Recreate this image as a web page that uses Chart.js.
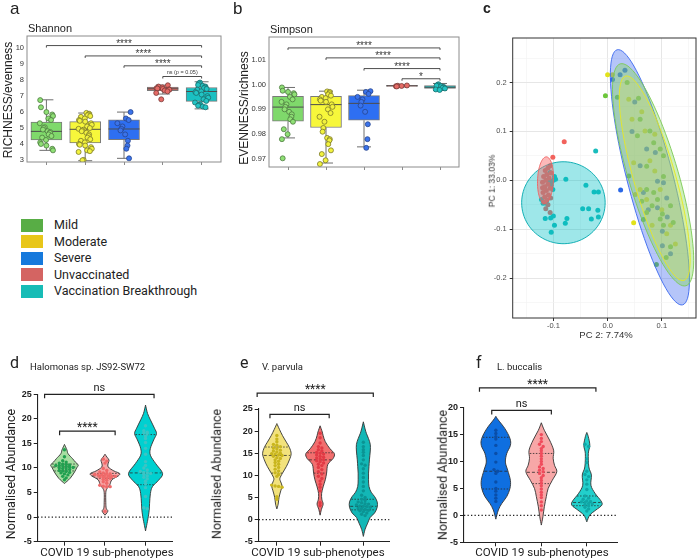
<!DOCTYPE html>
<html>
<head>
<meta charset="utf-8">
<script src="https://cdn.jsdelivr.net/npm/chart.js@4.4.1/dist/chart.umd.min.js"></script>
<style>
  body { margin: 0; width: 700px; height: 560px; position: relative; background: #fff; overflow: hidden; color: #222; font-family: Roboto, 'Liberation Sans', sans-serif; }
  canvas { position: absolute; }
  .t { position: absolute; white-space: nowrap; line-height: 1; }
</style>
</head>
<body>
<script>
// ---------- data ----------
const groups = ['Mild', 'Moderate', 'Severe', 'Unvaccinated', 'Vaccination Breakthrough'];
const legendColors = ['#58ad45', '#e8c619', '#1679dc', '#d46462', '#17bcb6'];

// a: Shannon   [min, q1, median, q3, max]
const shannonBoxes = [
  [3.6, 4.25, 4.79, 5.38, 6.77],
  [2.95, 4.06, 4.92, 5.4, 5.94],
  [3.1, 4.27, 4.94, 5.52, 6.0],
  [7.13, 7.35, 7.46, 7.56, 7.69],
  [6.2, 6.67, 7.29, 7.54, 7.9]
];
const shannonMildPts = [6.75, 6.3, 6.0, 5.85, 5.75, 5.6, 5.5, 5.3, 5.05, 5.0, 4.9, 4.8, 4.75, 4.7, 4.6, 4.5, 4.4, 4.25, 4.1, 4.0, 3.9, 3.7, 3.6];
const shannonModPts = [5.95, 5.9, 5.85, 5.8, 5.75, 5.7, 5.6, 5.5, 5.45, 5.4, 5.3, 5.2, 5.1, 5.0, 4.95, 4.9, 4.85, 4.8, 4.7, 4.6, 4.5, 4.4, 4.3, 4.2, 4.1, 4.0, 3.95, 3.9, 3.8, 3.7, 3.6, 3.55, 3.5, 3.0, 2.98];
const shannonSevPts = [6.0, 5.6, 5.5, 5.3, 5.1, 4.95, 4.85, 4.6, 4.2, 3.9, 3.7, 3.1];
const shannonUnvPts = [7.68, 7.6, 7.55, 7.5, 7.48, 7.45, 7.42, 7.4, 7.35, 7.3, 7.2, 6.8];
const shannonVbPts = [7.85, 7.8, 7.7, 7.65, 7.6, 7.55, 7.5, 7.45, 7.4, 7.3, 7.25, 7.2, 7.1, 7.0, 6.9, 6.8, 6.7, 6.6, 6.5, 6.45, 6.4, 6.35, 6.3];
const shannonTicks = [3, 4, 5, 6, 7, 8, 9, 10];
const shannonBrackets = [[0, 4, 10.17, '****'], [1, 4, 9.52, '****'], [2, 4, 8.9, '****'], [3, 4, 8.23, 'ns (p = 0.05)']];

// b: Simpson
const simpsonBoxes = [
  [0.9785, 0.9852, 0.9909, 0.9952, 0.9988],
  [0.9684, 0.9827, 0.9919, 0.9952, 0.9973],
  [0.9749, 0.9856, 0.9924, 0.9955, 0.9977],
  [0.999, 0.9992, 0.9995, 0.9997, 0.9998],
  [0.9976, 0.9984, 0.9989, 0.9996, 1.0004]
];
const simpsonMildPts = [0.9988, 0.9975, 0.997, 0.9965, 0.996, 0.995, 0.994, 0.993, 0.992, 0.991, 0.990, 0.989, 0.988, 0.987, 0.986, 0.985, 0.982, 0.980, 0.978, 0.9703];
const simpsonModPts = [0.9972, 0.997, 0.9965, 0.996, 0.9955, 0.995, 0.9945, 0.994, 0.9935, 0.993, 0.992, 0.991, 0.990, 0.9885, 0.987, 0.985, 0.9825, 0.981, 0.9785, 0.978, 0.9775, 0.976, 0.9735, 0.972, 0.9695, 0.968];
const simpsonSevPts = [0.9973, 0.997, 0.9962, 0.995, 0.994, 0.993, 0.9915, 0.989, 0.984, 0.978, 0.9745];
const simpsonUnvPts = [0.9996, 0.9995, 0.9994, 0.9993, 0.9992];
const simpsonVbPts = [1.0001, 0.9998, 0.9995, 0.9993, 0.999, 0.9988, 0.9986, 0.9984, 0.998, 0.9978];
const simpsonTicks = [0.97, 0.98, 0.99, 1.00, 1.01];
const simpsonBrackets = [[0, 4, 1.0147, '****'], [1, 4, 1.0107, '****'], [2, 4, 1.0064, '****'], [3, 4, 1.0023, '*']];

// c: PCA  [PC2, PC1]
const pcaMild = [[-0.004, 0.173], [0.018, 0.17], [0.057, 0.168], [0.036, 0.2], [0.06, 0.125], [0.078, 0.101], [0.055, 0.091], [0.085, 0.077], [0.097, 0.064], [0.103, 0.05], [0.072, 0.029], [0.103, 0.008], [0.039, 0.009], [0.072, -0.019], [0.085, -0.025], [0.092, -0.039], [0.066, -0.08], [0.101, -0.069], [0.116, -0.052], [0.097, -0.079], [0.103, -0.092], [0.121, -0.086], [0.116, -0.136], [0.108, -0.158], [0.09, -0.172], [0.072, -0.066], [0.082, -0.052], [0.063, -0.043]];
const pcaModerate = [[0.0, 0.216], [0.009, 0.216], [0.048, -0.087], [0.039, 0.166], [0.045, 0.125], [0.069, 0.101], [0.087, 0.094], [0.048, 0.036], [0.087, 0.019], [0.06, -0.019], [0.097, -0.019], [0.072, -0.039], [0.082, -0.092], [0.116, -0.092], [0.109, -0.109], [0.125, -0.13], [0.051, -0.029], [0.063, 0.14], [0.078, 0.04], [0.1, -0.06]];
const pcaSevere = [[0.009, 0.206], [0.023, 0.216], [0.032, 0.225], [0.024, -0.02], [0.072, 0.064], [0.088, 0.057], [0.092, -0.002], [0.103, -0.005], [0.066, -0.025], [0.109, -0.036], [0.092, -0.056], [0.101, -0.104], [0.101, -0.134], [0.116, -0.15], [0.045, 0.1], [0.06, 0.03], [0.075, -0.06], [0.11, -0.075], [0.05, 0.16]];
const pcaUnvacc = [[-0.08, 0.079], [-0.101, 0.047], [-0.106, 0.03], [-0.11, 0.025], [-0.115, 0.02], [-0.112, 0.012], [-0.118, 0.008], [-0.108, 0.005], [-0.114, 0.0], [-0.12, -0.004], [-0.11, -0.008], [-0.116, -0.013], [-0.106, -0.016], [-0.113, -0.021], [-0.119, -0.025], [-0.109, -0.03], [-0.116, -0.034], [-0.112, -0.04], [-0.105, -0.036], [-0.118, -0.045], [-0.11, -0.05], [-0.114, -0.058], [-0.106, -0.066], [-0.12, -0.015], [-0.104, 0.015]];
const pcaVB = [[-0.022, 0.06], [-0.077, 0.002], [-0.096, 0.002], [-0.103, -0.003], [-0.106, 0.016], [-0.101, -0.019], [-0.04, -0.01], [-0.025, -0.024], [-0.017, -0.024], [-0.046, -0.058], [-0.035, -0.058], [-0.018, -0.061], [-0.03, -0.079], [-0.017, -0.075], [-0.075, -0.078], [-0.078, -0.088], [-0.115, -0.078], [-0.105, -0.077], [-0.1, -0.073], [-0.098, -0.092], [-0.104, -0.106], [-0.119, -0.047], [-0.113, -0.047], [-0.122, -0.039], [-0.1, 0.0], [-0.104, -0.01], [-0.108, 0.0], [-0.098, 0.008]];
// ellipses: centre, semi-axis a, semi-axis b (data units)
const pcaEllipses = [
  [[0.078, 0.0062], [-0.0604, 0.2608], [0.0409, 0.0119]],   // Severe
  [[0.0839, 0.0113], [-0.0607, 0.2268], [0.0439, 0.0148]],  // Mild
  [[0.0869, 0.0042], [-0.0539, 0.2089], [0.037, 0.012]],    // Moderate
  [[-0.0815, -0.0458], [0.077, 0], [0, 0.0838]],            // Vaccination Breakthrough
  [[-0.1145, 0.0004], [0.0147, 0], [0.0015, 0.0476]]        // Unvaccinated
];
const pcaTicksX = [-0.1, 0, 0.1];
const pcaMinorX = [-0.15, -0.05, 0.05, 0.15];
const pcaTicksY = [-0.2, -0.1, 0, 0.1, 0.2];
const pcaMinorY = [-0.25, -0.15, -0.05, 0.05, 0.15, 0.25];

// d/e/f: violins  profile = [value, half width in category units]
const halomonasProfiles = [
  [[6.85, 0], [7.9, 0.14], [9.2, 0.25], [10.0, 0.3], [10.6, 0.34], [11.2, 0.27], [11.9, 0.2], [12.9, 0.09], [13.7, 0.06], [14.8, 0]],
  [[0.4, 0], [0.9, 0.05], [1.3, 0.07], [1.8, 0.03], [3, 0.02], [5, 0.02], [5.8, 0.05], [6.6, 0.12], [7.6, 0.17], [8.4, 0.33], [8.9, 0.36], [9.4, 0.22], [10.2, 0.08], [11, 0.08], [11.6, 0.1], [12.2, 0.05], [12.8, 0]],
  [[-2.8, 0], [-0.3, 0.06], [1.4, 0.09], [2.8, 0.1], [4.8, 0.12], [6.2, 0.17], [7.5, 0.32], [8.9, 0.42], [10.9, 0.25], [12.6, 0.12], [14.0, 0.12], [15.7, 0.2], [17.0, 0.27], [18.1, 0.22], [19.8, 0.12], [21.1, 0.05], [22.8, 0]]
];
const halomonasPts = [
  [13.7, 12.3, 11.5, 11.2, 11.0, 10.8, 10.7, 10.6, 10.5, 10.5, 10.4, 10.3, 10.2, 10.1, 10.0, 9.9, 9.8, 9.7, 9.5, 9.4, 9.3, 9.1, 9.0, 8.8, 8.6, 8.3, 8.0, 7.6],
  [11.8, 11.4, 11.0, 9.9, 9.5, 9.2, 9.0, 8.9, 8.8, 8.7, 8.6, 8.6, 8.5, 8.4, 8.3, 8.3, 8.2, 8.1, 8.0, 7.9, 7.7, 7.5, 7.2, 6.9, 6.5, 6.3, 6.2, 6.2, 1.2],
  [18.6, 17.6, 17.3, 17.1, 16.9, 16.5, 16.0, 15.2, 14.0, 12.8, 11.3, 10.5, 10.0, 9.6, 9.3, 9.1, 9.0, 8.9, 8.7, 8.4, 8.1, 7.8, 7.3, 6.8, 6.0, 4.2, 1.9, 1.7]
];
const halomonasQuart = [[9.4, 10.2, 10.8], [7.9, 8.4, 8.9], [6.6, 9.0, 16.8]];
const halomonasBrackets = [[-0.49, 2.21, 25, 'ns'], [-0.12, 1.25, 17.5, '****']];

const parvulaProfiles = [
  [[2.4, 0], [3.5, 0.03], [5, 0.05], [6.5, 0.09], [7.6, 0.12], [8.5, 0.09], [9.3, 0.07], [10.5, 0.13], [12, 0.22], [13.5, 0.29], [14.9, 0.33], [16.3, 0.29], [17.5, 0.22], [19, 0.13], [20.4, 0.06], [21.7, 0]],
  [[1, 0], [2.3, 0.03], [3.5, 0.07], [4.6, 0.04], [5.9, 0.035], [7.4, 0.07], [9, 0.12], [10.5, 0.15], [12.5, 0.18], [13.8, 0.3], [14.9, 0.33], [16, 0.23], [17.6, 0.12], [19, 0.07], [19.8, 0.05], [21.2, 0]],
  [[-3.8, 0], [-2.2, 0.04], [-0.8, 0.1], [0.5, 0.16], [1.5, 0.26], [2.8, 0.32], [4.0, 0.32], [5.2, 0.26], [6.2, 0.18], [7.5, 0.13], [9, 0.12], [10.5, 0.12], [12, 0.13], [13.5, 0.14], [15.5, 0.16], [17, 0.16], [18.3, 0.12], [19.5, 0.07], [20.5, 0.04], [22.1, 0]]
];
const parvulaPts = [
  [19.0, 18.2, 17.6, 17.0, 16.8, 16.5, 16.2, 16.0, 15.7, 15.5, 15.3, 15.0, 14.9, 14.8, 14.6, 14.5, 14.3, 14.0, 13.8, 13.5, 13.2, 12.9, 12.5, 12.2, 11.8, 11.4, 11.0, 10.6, 10.2, 9.8, 7.8, 7.6, 7.5, 7.3, 5.2, 4.6],
  [19.5, 18.5, 17.3, 16.5, 16.2, 15.8, 15.5, 15.2, 15.0, 14.8, 14.6, 14.3, 14.1, 13.9, 13.7, 13.5, 13.3, 13.1, 12.8, 12.5, 12.2, 11.8, 11.3, 10.8, 10.3, 9.8, 9.3, 8.7, 8.0, 7.3, 6.5, 3.8, 3.2],
  [17.5, 16.5, 15.8, 15.2, 14.5, 13.5, 12.6, 12.3, 11.5, 10.5, 9.5, 8.5, 7.5, 6.5, 5.5, 5.0, 4.6, 4.3, 4.0, 3.8, 3.6, 3.5, 3.3, 3.1, 3.0, 2.9, 2.8, 2.6, 2.5, 2.3, 2.1, 2.0, 1.8, 1.5, 1.2, 0.9]
];
const parvulaQuart = [[10.5, 14.5, 16.4], [10.5, 13.5, 15.1], [2.2, 3.0, 4.6]];
const parvulaBrackets = [[-0.456, 2.23, 28.6, '****'], [-0.16, 1.21, 23.8, 'ns']];

const buccalisProfiles = [
  [[-0.7, 0], [1.0, 0.055], [2.2, 0.13], [3.5, 0.24], [5.0, 0.31], [6.5, 0.32], [8.4, 0.26], [9.9, 0.21], [11.5, 0.24], [13.0, 0.32], [14.3, 0.31], [16.1, 0.2], [17.7, 0.055], [18.4, 0]],
  [[-1.8, 0], [-0.25, 0.035], [1.6, 0.066], [3.5, 0.11], [5.0, 0.15], [6.5, 0.24], [8.1, 0.34], [9.3, 0.29], [10.6, 0.26], [12.1, 0.27], [14.0, 0.18], [15.8, 0.066], [17.2, 0]],
  [[-1.2, 0], [0.06, 0.066], [1.0, 0.2], [1.9, 0.33], [2.7, 0.31], [4.1, 0.18], [5.6, 0.09], [7.5, 0.1], [9.0, 0.044], [11.5, 0.033], [13.0, 0.066], [14.6, 0.033], [15.4, 0]]
];
const buccalisPts = [
  [15.8, 15.2, 14.6, 14.2, 13.0, 11.5, 9.9, 8.5, 8.2, 7.8, 6.2, 5.0, 4.5, 3.8, 3.2, 2.6],
  [15.0, 14.3, 13.7, 13.2, 12.8, 12.4, 12.0, 11.5, 11.0, 10.5, 10.0, 9.5, 9.0, 8.7, 8.4, 8.1, 7.8, 7.4, 7.0, 6.5, 6.0, 5.5, 4.9, 4.3, 3.8, 3.3, 2.5, 1.8, 1.0],
  [13.2, 12.8, 10.5, 9.8, 8.2, 7.6, 7.2, 6.6, 5.8, 4.8, 3.6, 3.2, 3.0, 2.7, 2.6, 2.5, 2.4, 2.2, 2.1, 2.0, 1.8, 1.5, 1.2, 0.8]
];
const buccalisQuart = [[4.9, 8.2, 14.5], [5.9, 8.0, 11.5], [1.8, 2.4, 3.6]];
const buccalisBrackets = [[-0.36, 2.2, 23.7, '****'], [-0.09, 1.22, 19.5, 'ns']];

const violinTicks25 = [-5, 0, 5, 10, 15, 20, 25];
const violinTicks20 = [-5, 0, 5, 10, 15, 20];

// ---------- helpers ----------
Chart.defaults.animation = false;
Chart.defaults.font.family = "'Liberation Sans', Arial, sans-serif";
Chart.defaults.plugins.legend.display = false;
Chart.defaults.plugins.tooltip.enabled = false;

function makeCanvas(left, top, w, h) {
  const c = document.createElement('canvas');
  c.width = w; c.height = h;
  c.style.left = left + 'px'; c.style.top = top + 'px';
  c.style.width = w + 'px'; c.style.height = h + 'px';
  document.body.appendChild(c);
  return c;
}

function addText(txt, x, y, size, opt) {
  opt = opt || {};
  const d = document.createElement('div');
  d.className = 't';
  d.textContent = txt;
  d.style.left = x + 'px';
  d.style.top = y + 'px';
  d.style.fontSize = size + 'px';
  if (opt.font) d.style.fontFamily = opt.font;
  if (opt.bold) d.style.fontWeight = 'bold';
  if (opt.color) d.style.color = opt.color;
  let tr = opt.center ? 'translate(-50%,-50%)' : 'translate(0,-50%)';
  if (opt.rot) tr += ' rotate(-90deg)';
  d.style.transform = tr;
  document.body.appendChild(d);
}

// bracket with label, shared by all panels
function drawBracket(ctx, x, y, b, st) {
  const x1 = x.getPixelForValue(b[0]), x2 = x.getPixelForValue(b[1]);
  const yy = y.getPixelForValue(b[2]);
  ctx.strokeStyle = st.color; ctx.lineWidth = st.lw;
  ctx.beginPath();
  ctx.moveTo(x1, yy + st.tick); ctx.lineTo(x1, yy); ctx.lineTo(x2, yy); ctx.lineTo(x2, yy + st.tick);
  ctx.stroke();
  const star = b[3].indexOf('*') === 0;
  const size = star ? st.star : (b[3].length > 3 ? st.small : st.ns);
  ctx.font = size + 'px ' + st.font;
  ctx.fillStyle = st.color;
  ctx.textAlign = 'center';
  ctx.textBaseline = 'alphabetic';
  const base = star ? yy - st.gap + 0.52 * size : yy - st.gap + 0.27 * size;
  ctx.fillText(b[3], (x1 + x2) / 2, base);
}

const jit = [-0.16, 0.09, -0.04, 0.15, -0.11, 0.03, 0.12, -0.14, 0.06, -0.07, 0.17, -0.01, 0.1, -0.17, 0.0, 0.13, -0.09, 0.05];

const boxPlugin = {
  id: 'boxExtras',
  afterDatasetDraw(chart, args, o) {
    if (args.index !== 0) return;
    const { ctx, scales: { x, y } } = chart;
    ctx.save();
    o.boxes.forEach((b, i) => {
      const cx = x.getPixelForValue(i);
      ctx.strokeStyle = '#6e6e6e'; ctx.lineWidth = 1;
      ctx.beginPath();
      ctx.moveTo(cx, y.getPixelForValue(b[3])); ctx.lineTo(cx, y.getPixelForValue(b[4]));
      ctx.moveTo(cx, y.getPixelForValue(b[1])); ctx.lineTo(cx, y.getPixelForValue(b[0]));
      ctx.moveTo(cx - 7, y.getPixelForValue(b[4])); ctx.lineTo(cx + 7, y.getPixelForValue(b[4]));
      ctx.moveTo(cx - 7, y.getPixelForValue(b[0])); ctx.lineTo(cx + 7, y.getPixelForValue(b[0]));
      ctx.stroke();
      ctx.strokeStyle = '#4d4d4d';
      ctx.beginPath();
      ctx.moveTo(cx - 15.5, y.getPixelForValue(b[2])); ctx.lineTo(cx + 15.5, y.getPixelForValue(b[2]));
      ctx.stroke();
    });
    ctx.restore();
  },
  afterDraw(chart, args, o) {
    const { ctx, chartArea: a, scales: { x, y } } = chart;
    ctx.save();
    ctx.strokeStyle = '#8c8c8c'; ctx.lineWidth = 1;
    ctx.strokeRect(a.left, a.top, a.right - a.left, a.bottom - a.top);
    o.brackets.forEach(b => drawBracket(ctx, x, y, b, { color: '#3a3a3a', lw: 0.9, tick: 2, star: 10, ns: 6, small: 5.5, gap: 4, font: "'Liberation Sans', Arial, sans-serif" }));
    ctx.restore();
  }
};

function boxChart(el, o) {
  const datasets = [{
    type: 'bar',
    data: o.boxes.map((b, i) => ({ x: i, y: [b[1], b[3]] })),
    backgroundColor: o.boxFill,
    borderColor: '#7a7a7a', borderWidth: 1, borderSkipped: false,
    barThickness: 31, order: 2
  }];
  o.points.forEach((p, i) => {
    datasets.push({
      type: 'scatter',
      data: p.map((v, k) => ({ x: i + jit[(k * 7 + i * 5) % jit.length], y: v })),
      pointRadius: 2.5, pointBackgroundColor: o.dotFill[i], pointBorderColor: o.dotEdge[i], pointBorderWidth: 0.8,
      order: 1
    });
  });
  return new Chart(el, {
    type: 'bar',
    data: { datasets },
    options: {
      responsive: false,
      layout: { padding: o.pad },
      scales: {
        x: {
          type: 'linear', min: -0.5, max: 4.5, offset: false,
          afterBuildTicks: s => { s.ticks = [0, 1, 2, 3, 4].map(v => ({ value: v })); },
          afterFit: s => { s.height = o.xh; },
          ticks: { callback: () => '' },
          grid: { drawOnChartArea: false, offset: false, tickLength: 3, color: '#8c8c8c' },
          border: { display: false }
        },
        y: {
          min: o.ymin, max: o.ymax,
          afterBuildTicks: s => { s.ticks = o.ticks.map(v => ({ value: v })); },
          afterFit: s => { s.width = o.yw; },
          ticks: { font: { size: 7.5 }, color: '#333', padding: 3, callback: o.fmt },
          grid: { display: false, drawTicks: false },
          border: { display: false }
        }
      },
      plugins: { boxExtras: { boxes: o.boxes, brackets: o.brackets } }
    },
    plugins: [boxPlugin]
  });
}

const boxFill = ['#7fd96b', '#f7f73b', '#2e6ff2', '#e0716b', '#1ac0c2'];
const dotFill = ['#8fe075', '#f2f23e', '#3b73ea', '#e56b66', '#22c4c4'];
const dotEdge = ['#4c7a40', '#7c7a2a', '#26458f', '#7a3b38', '#1b6d6d'];

// ---------- panel a ----------
boxChart(makeCanvas(0, 0, 232, 175), {
  boxes: shannonBoxes,
  points: [shannonMildPts, shannonModPts, shannonSevPts, shannonUnvPts, shannonVbPts],
  brackets: shannonBrackets, ticks: shannonTicks,
  ymin: 2.87, ymax: 10.77, fmt: v => String(v),
  pad: { top: 36, right: 11, left: 0, bottom: 0 }, yw: 27, xh: 13,
  boxFill, dotFill, dotEdge
});

// ---------- panel b ----------
boxChart(makeCanvas(232, 0, 232, 175), {
  boxes: simpsonBoxes,
  points: [simpsonMildPts, simpsonModPts, simpsonSevPts, simpsonUnvPts, simpsonVbPts],
  brackets: simpsonBrackets, ticks: simpsonTicks,
  ymin: 0.9668, ymax: 1.0191, fmt: v => v.toFixed(2),
  pad: { top: 37, right: 5, left: 0, bottom: 0 }, yw: 37, xh: 8,
  boxFill, dotFill, dotEdge
});

// ---------- panel c ----------
const pcaColors = ['#6cc63a', '#e2e21a', '#2b68e6', '#f2625c', '#19bcbc'];
const ellipseStyle = [
  ['rgba(70,110,240,0.4)', '#3a68ee'],
  ['rgba(130,215,90,0.4)', '#7cca55'],
  ['rgba(235,235,50,0.22)', '#e8e820'],
  ['rgba(0,192,198,0.38)', '#00a8ae'],
  ['rgba(248,100,100,0.45)', '#f06060']
];
const isMajor = (v, list) => list.some(m => Math.abs(m - v) < 1e-9);
const ellipsePlugin = {
  id: 'ellipses',
  afterDatasetsDraw(chart, args, o) {
    const { ctx, chartArea: ca, scales: { x, y } } = chart;
    ctx.save();
    ctx.beginPath(); ctx.rect(ca.left, ca.top, ca.right - ca.left, ca.bottom - ca.top); ctx.clip();
    o.list.forEach((e, i) => {
      const cx = x.getPixelForValue(e[0][0]), cy = y.getPixelForValue(e[0][1]);
      const ax = x.getPixelForValue(e[0][0] + e[1][0]) - cx, ay = y.getPixelForValue(e[0][1] + e[1][1]) - cy;
      const bx = x.getPixelForValue(e[0][0] + e[2][0]) - cx, by = y.getPixelForValue(e[0][1] + e[2][1]) - cy;
      ctx.beginPath();
      for (let k = 0; k <= 90; k++) {
        const t = k / 90 * Math.PI * 2;
        const px = cx + ax * Math.cos(t) + bx * Math.sin(t);
        const py = cy + ay * Math.cos(t) + by * Math.sin(t);
        if (k) ctx.lineTo(px, py); else ctx.moveTo(px, py);
      }
      ctx.closePath();
      ctx.fillStyle = o.style[i][0]; ctx.fill();
      ctx.strokeStyle = o.style[i][1]; ctx.lineWidth = 0.9; ctx.stroke();
    });
    ctx.restore();
    ctx.save();
    ctx.strokeStyle = '#333'; ctx.lineWidth = 1;
    ctx.strokeRect(ca.left, ca.top, ca.right - ca.left, ca.bottom - ca.top);
    ctx.restore();
  }
};
new Chart(makeCanvas(464, 0, 236, 345), {
  type: 'scatter',
  data: {
    datasets: [pcaMild, pcaModerate, pcaSevere, pcaUnvacc, pcaVB].map((g, i) => ({
      data: g.map(p => ({ x: p[0], y: p[1] })),
      pointRadius: 2.5, pointBorderWidth: 0, pointBackgroundColor: pcaColors[i]
    }))
  },
  options: {
    responsive: false,
    layout: { padding: { top: 38, right: 3, left: 0, bottom: 0 } },
    scales: {
      x: {
        min: -0.175, max: 0.163,
        afterBuildTicks: s => { s.ticks = pcaTicksX.concat(pcaMinorX).sort((a, b) => a - b).map(v => ({ value: v })); },
        afterFit: s => { s.height = 27; },
        ticks: { font: { size: 7.5 }, color: '#4d4d4d', padding: 0, callback: v => isMajor(v, pcaTicksX) ? (Math.abs(v) < 1e-9 ? '0.0' : v.toFixed(1)) : '' },
        grid: {
          color: c => isMajor(c.tick.value, pcaTicksX) ? '#e6e6e6' : '#f2f2f2',
          lineWidth: c => isMajor(c.tick.value, pcaTicksX) ? 1 : 0.6,
          tickColor: c => isMajor(c.tick.value, pcaTicksX) ? '#333' : 'rgba(0,0,0,0)',
          tickLength: 3
        },
        border: { display: false }
      },
      y: {
        min: -0.2815, max: 0.291,
        afterBuildTicks: s => { s.ticks = pcaTicksY.concat(pcaMinorY).sort((a, b) => a - b).map(v => ({ value: v })); },
        afterFit: s => { s.width = 48.7; },
        ticks: { font: { size: 7.5 }, color: '#4d4d4d', padding: 3, callback: v => isMajor(v, pcaTicksY) ? (Math.abs(v) < 1e-9 ? '0.0' : v.toFixed(1)) : '' },
        grid: {
          color: c => isMajor(c.tick.value, pcaTicksY) ? '#e6e6e6' : '#f2f2f2',
          lineWidth: c => isMajor(c.tick.value, pcaTicksY) ? 1 : 0.6,
          tickColor: c => isMajor(c.tick.value, pcaTicksY) ? '#333' : 'rgba(0,0,0,0)',
          tickLength: 3
        },
        border: { display: false }
      }
    },
    plugins: { ellipses: { list: pcaEllipses, style: ellipseStyle } }
  },
  plugins: [ellipsePlugin]
});

// ---------- panels d, e, f ----------
function smooth(ctx, p, first) {
  if (first) ctx.moveTo(p[0][0], p[0][1]); else ctx.lineTo(p[0][0], p[0][1]);
  for (let i = 0; i < p.length - 1; i++) {
    const p0 = p[Math.max(i - 1, 0)], p1 = p[i], p2 = p[i + 1], p3 = p[Math.min(i + 2, p.length - 1)];
    const t = 1 / 6;
    ctx.bezierCurveTo(p1[0] + (p2[0] - p0[0]) * t, p1[1] + (p2[1] - p0[1]) * t,
      p2[0] - (p3[0] - p1[0]) * t, p2[1] - (p3[1] - p1[1]) * t, p2[0], p2[1]);
  }
}
function widthAt(prof, v) {
  for (let i = 0; i < prof.length - 1; i++) {
    const a = prof[i], b = prof[i + 1];
    if (v >= a[0] && v <= b[0]) return a[1] + (b[1] - a[1]) * (v - a[0]) / (b[0] - a[0]);
  }
  return 0;
}
function swarm(vals, cat, tol, step) {
  const s = vals.slice().sort((a, b) => b - a);
  const out = []; let row = [];
  const flush = () => { row.forEach((v, k) => out.push({ x: cat + (k - (row.length - 1) / 2) * step, y: v })); row = []; };
  s.forEach(v => { if (row.length && row[0] - v > tol) flush(); row.push(v); });
  flush();
  return out;
}

const violinPlugin = {
  id: 'violins',
  beforeDatasetsDraw(chart, args, o) {
    const { ctx, chartArea: ca, scales: { x, y } } = chart;
    ctx.save();
    const y0 = y.getPixelForValue(0);
    ctx.setLineDash([1.3, 2.2]); ctx.strokeStyle = '#222'; ctx.lineWidth = 1.1;
    ctx.beginPath(); ctx.moveTo(ca.left, y0); ctx.lineTo(ca.right, y0); ctx.stroke();
    ctx.setLineDash([]);
    o.profiles.forEach((prof, i) => {
      const right = prof.map(p => [x.getPixelForValue(i + p[1]), y.getPixelForValue(p[0])]);
      const left = prof.slice().reverse().map(p => [x.getPixelForValue(i - p[1]), y.getPixelForValue(p[0])]);
      ctx.beginPath();
      smooth(ctx, right, true);
      smooth(ctx, left, false);
      ctx.closePath();
      ctx.fillStyle = o.fills[i]; ctx.fill();
      ctx.strokeStyle = '#333'; ctx.lineWidth = 0.9; ctx.stroke();
      o.quart[i].forEach((q, k) => {
        const w = widthAt(prof, q) * 0.95;
        const py = y.getPixelForValue(q);
        ctx.setLineDash(k === 1 ? [3, 2] : [1.5, 1.5]);
        ctx.strokeStyle = '#2a2a2a'; ctx.lineWidth = 0.8;
        ctx.beginPath(); ctx.moveTo(x.getPixelForValue(i - w), py); ctx.lineTo(x.getPixelForValue(i + w), py); ctx.stroke();
      });
      ctx.setLineDash([]);
    });
    ctx.restore();
  },
  afterDraw(chart, args, o) {
    const { ctx, scales: { x, y } } = chart;
    ctx.save();
    o.brackets.forEach(b => drawBracket(ctx, x, y, b, { color: '#222', lw: 1.2, tick: 4, star: 12, ns: 11, small: 11, gap: 6.5, font: 'Roboto, sans-serif' }));
    ctx.restore();
  }
};

function violinChart(el, o) {
  return new Chart(el, {
    type: 'scatter',
    data: {
      datasets: o.points.map((p, i) => ({
        data: swarm(p, i, o.tol, o.step),
        pointRadius: 1.7, pointBorderWidth: 0, pointBackgroundColor: o.dots[i]
      }))
    },
    options: {
      responsive: false,
      layout: { padding: o.pad },
      scales: {
        x: {
          min: o.xmin, max: o.xmax,
          afterBuildTicks: s => { s.ticks = [0, 1, 2].map(v => ({ value: v })); },
          afterFit: s => { s.height = o.xh; },
          ticks: { callback: () => '' },
          grid: { drawOnChartArea: false, tickLength: 4, color: '#222' },
          border: { color: '#222', width: 1.1 }
        },
        y: {
          min: o.ticks[0], max: o.ticks[o.ticks.length - 1],
          afterBuildTicks: s => { s.ticks = o.ticks.map(v => ({ value: v })); },
          afterFit: s => { s.width = o.yw; },
          ticks: { font: { size: 9, weight: 'bold' }, color: '#222', padding: 2 },
          grid: { drawOnChartArea: false, tickLength: 4, color: '#222' },
          border: { color: '#222', width: 1.1 }
        }
      },
      plugins: { violins: { profiles: o.profiles, fills: o.fills, quart: o.quart, brackets: o.brackets } }
    },
    plugins: [violinPlugin]
  });
}

violinChart(makeCanvas(0, 360, 205, 200), {
  profiles: halomonasProfiles, points: halomonasPts, quart: halomonasQuart, brackets: halomonasBrackets,
  fills: ['#a7dea1', '#f7a5a5', '#00d0d0'], dots: ['#22a050', '#f06a6a', '#3cc4c4'],
  ticks: violinTicks25, xmin: -0.66, xmax: 2.67, tol: 0.45, step: 0.085,
  pad: { top: 34.3, right: 32.3, left: 0, bottom: 0 }, yw: 37.7, xh: 18.3
});
violinChart(makeCanvas(205, 360, 235, 200), {
  profiles: parvulaProfiles, points: parvulaPts, quart: parvulaQuart, brackets: parvulaBrackets,
  fills: ['#f2e27c', '#f26e6e', '#13b7b6'], dots: ['#c9b61e', '#e23a45', '#0b9494'],
  ticks: violinTicks25, xmin: -0.42, xmax: 2.6, tol: 0.5, step: 0.08,
  pad: { top: 49, right: 50.7, left: 0, bottom: 0 }, yw: 53.7, xh: 18.3
});
violinChart(makeCanvas(440, 360, 260, 200), {
  profiles: buccalisProfiles, points: buccalisPts, quart: buccalisQuart, brackets: buccalisBrackets,
  fills: ['#0f6fe0', '#f7a7a7', '#22cfcb'], dots: ['#0a4ea8', '#f04c5c', '#10a6a6'],
  ticks: violinTicks20, xmin: -0.7, xmax: 2.67, tol: 0.4, step: 0.08,
  pad: { top: 47.7, right: 82.7, left: 0, bottom: 0 }, yw: 24, xh: 17.7
});

// ---------- text ----------
const sans = "'Liberation Sans', Arial, sans-serif";
addText('a', 10, 8, 17, { font: sans });
addText('b', 233, 8, 17, { font: sans });
addText('c', 483, 8, 14, { font: sans, bold: true });
addText('Shannon', 28, 28, 11, { font: sans });
addText('Simpson', 270, 29, 11, { font: sans });
addText('RICHNESS/evenness', 8, 100, 12, { font: sans, center: true, rot: true });
addText('EVENNESS/richness', 244, 108, 12, { font: sans, center: true, rot: true });
addText('PC 1: 33.03%', 492, 181, 8.5, { font: sans, center: true, rot: true, color: '#333' });
addText('PC 2: 7.74%', 606, 334.5, 9.5, { font: sans, center: true, color: '#333' });

addText('d', 10, 363, 16);
addText('e', 240, 363, 16);
addText('f', 476, 363, 16);
addText('Halomonas sp. JS92-SW72', 30, 367, 9.5);
addText('V. parvula', 262, 367, 9.5);
addText('L. buccalis', 497, 367, 9.5);
addText('Normalised Abundance', 11, 474, 12.5, { center: true, rot: true });
addText('Normalised Abundance', 217, 474, 12.5, { center: true, rot: true });
addText('Normalised Abundance', 443, 475, 12.5, { center: true, rot: true });
addText('COVID 19 sub-phenotypes', 107, 553, 11.5, { center: true });
addText('COVID 19 sub-phenotypes', 318, 553, 11.5, { center: true });
addText('COVID 19 sub-phenotypes', 542, 553, 11.5, { center: true });

// legend
groups.forEach((g, i) => {
  const sq = document.createElement('div');
  sq.style.cssText = 'position:absolute;left:21px;width:22px;height:13px;top:' + (218.5 + i * 16.6) + 'px;background:' + legendColors[i];
  document.body.appendChild(sq);
  addText(g, 54, 225 + i * 16.6, 12.5);
});
</script>
</body>
</html>
